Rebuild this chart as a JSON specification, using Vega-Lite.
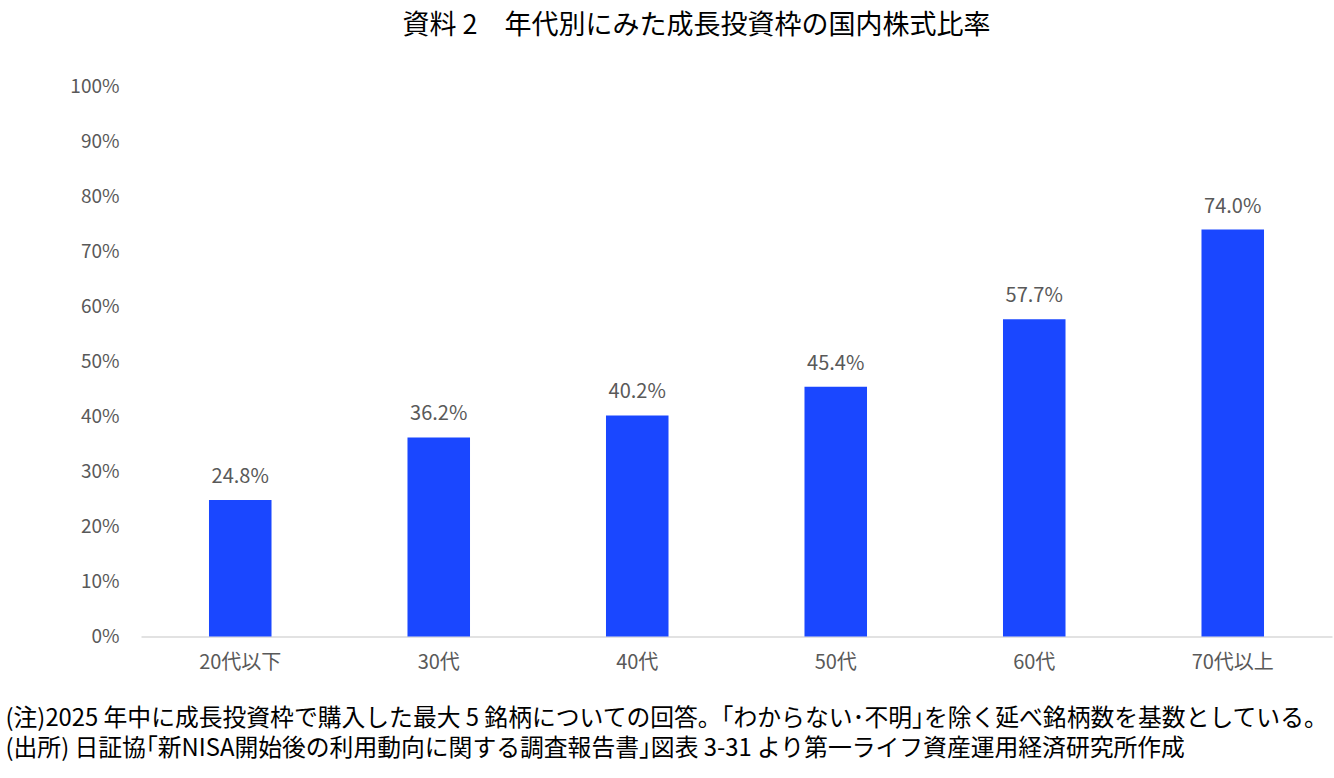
{
  "$schema": "https://vega.github.io/schema/vega-lite/v6.json",
  "width": 1191,
  "height": 550,
  "autosize": "none",
  "padding": {"left": 141, "top": 86.5, "right": 2, "bottom": 141.5},
  "background": "white",
  "title": {
    "text": "資料 2　年代別にみた成長投資枠の国内株式比率",
    "font": "Noto Sans CJK JP",
    "fontSize": 27,
    "fontWeight": "normal",
    "color": "#000000",
    "anchor": "middle",
    "frame": "group",
    "dx": -40,
    "offset": 38
  },
  "config": {
    "view": {"stroke": null},
    "font": "Noto Sans CJK JP"
  },
  "data": {
    "values": [
      {"age": "20代以下", "ratio": 0.248},
      {"age": "30代", "ratio": 0.362},
      {"age": "40代", "ratio": 0.402},
      {"age": "50代", "ratio": 0.454},
      {"age": "60代", "ratio": 0.577},
      {"age": "70代以上", "ratio": 0.74}
    ]
  },
  "encoding": {
    "x": {
      "field": "age",
      "type": "nominal",
      "sort": null,
      "scale": {"paddingInner": 0.685, "paddingOuter": 0.3425},
      "axis": {
        "labelAngle": 0,
        "labelFontSize": 20,
        "labelColor": "#595959",
        "labelPadding": 16,
        "ticks": false,
        "domainColor": "#d9d9d9",
        "domainWidth": 1.5,
        "title": [
          "(注)2025 年中に成長投資枠で購入した最大 5 銘柄についての回答。｢わからない･不明｣を除く延べ銘柄数を基数としている。",
          "(出所) 日証協｢新NISA開始後の利用動向に関する調査報告書｣図表 3-31 より第一ライフ資産運用経済研究所作成"
        ],
        "titleFontSize": 23.8,
        "titleFontWeight": "normal",
        "titleColor": "#000000",
        "titleAnchor": "start",
        "titleAlign": "left",
        "titleBaseline": "alphabetic",
        "titleX": -136,
        "titleY": 89,
        "titleLineHeight": 30
      }
    },
    "y": {
      "field": "ratio",
      "type": "quantitative",
      "scale": {"domain": [0, 1]},
      "axis": {
        "title": null,
        "format": ".0%",
        "values": [0, 0.1, 0.2, 0.3, 0.4, 0.5, 0.6, 0.7, 0.8, 0.9, 1],
        "labelOverlap": false,
        "grid": false,
        "domain": false,
        "ticks": false,
        "labelFontSize": 19,
        "labelColor": "#595959",
        "labelPadding": 22
      }
    }
  },
  "layer": [
    {"mark": {"type": "bar", "color": "#1a47ff"}},
    {
      "mark": {
        "type": "text",
        "baseline": "alphabetic",
        "dy": -17,
        "fontSize": 20,
        "color": "#595959"
      },
      "encoding": {"text": {"field": "ratio", "type": "quantitative", "format": ".1%"}}
    }
  ]
}
